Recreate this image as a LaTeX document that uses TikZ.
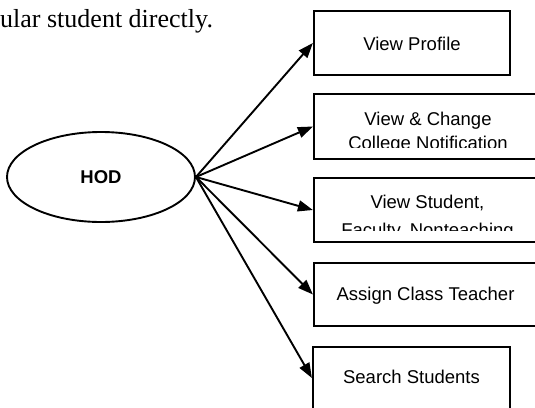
\documentclass[tikz,border=0pt]{standalone}
\usepackage{fontspec}
\setmainfont{Liberation Serif}
\newfontfamily\boxfont{Liberation Sans}
\usetikzlibrary{arrows.meta,shapes.geometric}
\begin{document}
\begin{tikzpicture}[x=1pt,y=-1pt,
  boxnode/.style={draw, line width=2.2pt, inner sep=0pt},
  boxtext/.style={font=\boxfont\fontsize{18.5}{22}\selectfont, inner sep=0pt, anchor=base},
  conn/.style={line width=1.9pt, -{Triangle[length=15pt,width=11pt]}}]
\path[use as bounding box] (0,0) rectangle (535,407);
\clip (0,0) rectangle (535,407);

% fragment of the text above
\node[anchor=base west, inner sep=0pt, font=\fontsize{26}{30}\selectfont] (toptext) at (0,27) {ular student directly.};

% actor
\node[draw, ellipse, line width=1.9pt, minimum width=188pt, minimum height=90pt, inner sep=0pt,
      font=\boxfont\bfseries\fontsize{18.5}{22}\selectfont] (hod) at (101,177) {HOD};

% boxes
\node[boxnode, minimum width=196pt, minimum height=64pt] (b1) at (412,43) {};
\node[boxnode, minimum width=228pt, minimum height=65pt] (b2) at (428,126.5) {};
\node[boxnode, minimum width=227pt, minimum height=64pt] (b3) at (427.5,210) {};
\node[boxnode, minimum width=223pt, minimum height=63pt] (b4) at (425.5,294.5) {};
\node[boxnode, minimum width=197pt, minimum height=62pt] (b5) at (411.5,378) {};

% texts
\node[boxtext] (t1) at (412,50) {View Profile};
\node[boxtext] (t2a) at (428,125) {View \& Change};
\begin{scope}
  \clip (315,96) rectangle (541,147.5);
  \node[boxtext] (t2b) at (428,149) {College Notification};
\end{scope}
\node[boxtext] (t3a) at (427.5,208) {View Student,};
\begin{scope}
  \clip (315,180) rectangle (540,230.5);
  \node[boxtext] (t3b) at (427.5,236) {Faculty, Nonteaching};
\end{scope}
\node[boxtext] (t4) at (425.5,300) {Assign Class Teacher};
\node[boxtext] (t5) at (411.5,383) {Search Students};

% connectors
\draw[conn] (hod.east) -- (b1.west);
\draw[conn] (hod.east) -- (b2.west);
\draw[conn] (hod.east) -- (b3.west);
\draw[conn] (hod.east) -- (b4.west);
\draw[conn] (hod.east) -- (b5.west);
\end{tikzpicture}
\end{document}
